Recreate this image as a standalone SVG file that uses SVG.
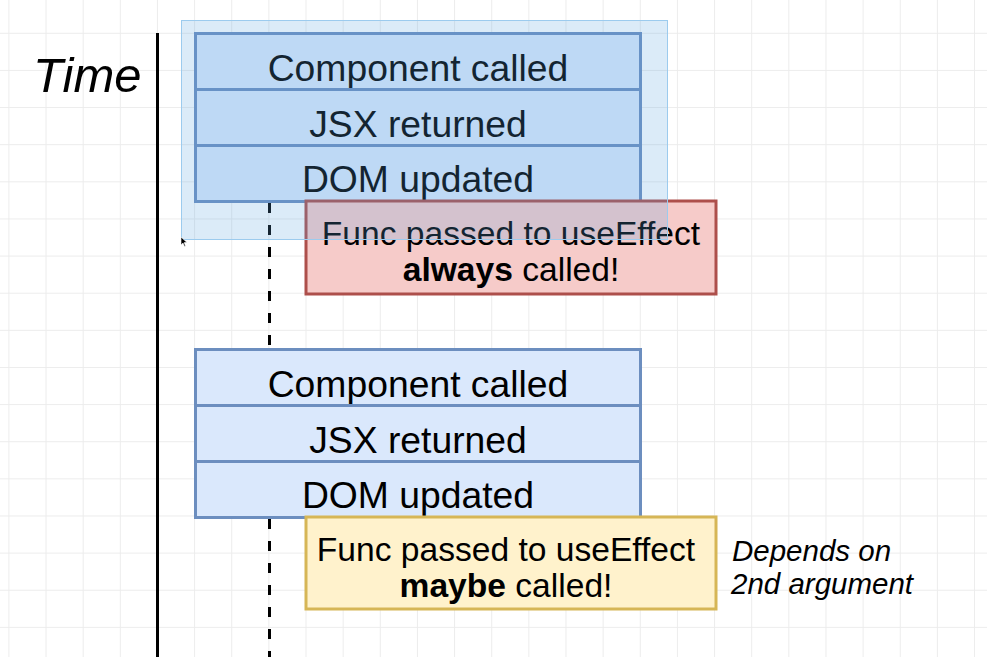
<svg xmlns="http://www.w3.org/2000/svg" width="987" height="657" viewBox="0 0 987 657">
  <style>
    text { font-family: "Liberation Sans", Arial, Helvetica, sans-serif; fill: #000; }
    .row { fill: #dae8fc; stroke: #6c8ebf; stroke-width: 3; }
    .lbl { font-size: 37.3px; text-anchor: middle; }
    .note { font-size: 33.6px; text-anchor: middle; }
    .red { fill: #f6cbc9; stroke: #ad4f4b; stroke-width: 3; }
    .yellow { fill: #fff2cc; stroke: #d6b656; stroke-width: 3; }
    .dash { stroke: #000; stroke-width: 3; stroke-dasharray: 10 12; fill: none; }
    .ital { font-style: italic; }
  </style>
  <defs>
    <pattern id="grid" x="8.4" y="32.8" width="37.14" height="37.13" patternUnits="userSpaceOnUse">
      <path d="M0.5 0 V37.13 M0 0.5 H37.14" stroke="#ececec" stroke-width="1" fill="none"/>
    </pattern>
  </defs>

  <rect x="0" y="0" width="987" height="657" fill="#ffffff"/>
  <rect x="0" y="0" width="987" height="657" fill="url(#grid)"/>

  <g id="time-axis">
    <line x1="157.5" y1="33" x2="157.5" y2="657" stroke="#000" stroke-width="3"/>
    <text x="33" y="92" font-size="49" class="ital">Time</text>
  </g>

  <g id="connectors">
    <line class="dash" x1="269.5" y1="203" x2="269.5" y2="349"/>
    <line class="dash" x1="269.5" y1="519" x2="269.5" y2="657"/>
  </g>

  <g id="render1">
    <g id="r1-component">
      <rect class="row" x="195.5" y="33.5" width="445" height="56"/>
      <text class="lbl" x="418" y="81">Component called</text>
    </g>
    <g id="r1-jsx">
      <rect class="row" x="195.5" y="89.5" width="445" height="56"/>
      <text class="lbl" x="418" y="137">JSX returned</text>
    </g>
    <g id="r1-dom">
      <rect class="row" x="195.5" y="145.5" width="445" height="56"/>
      <text class="lbl" x="418" y="192">DOM updated</text>
    </g>
  </g>

  <g id="effect1">
    <rect class="red" x="306" y="201" width="410" height="93"/>
    <text class="note" x="511" y="245">Func passed to useEffect</text>
    <text class="note" x="511" y="281"><tspan font-weight="bold">always</tspan> called!</text>
  </g>

  <g id="render2">
    <g id="r2-component">
      <rect class="row" x="195.5" y="349.5" width="445" height="56"/>
      <text class="lbl" x="418" y="397">Component called</text>
    </g>
    <g id="r2-jsx">
      <rect class="row" x="195.5" y="405.5" width="445" height="56"/>
      <text class="lbl" x="418" y="453">JSX returned</text>
    </g>
    <g id="r2-dom">
      <rect class="row" x="195.5" y="461.5" width="445" height="56"/>
      <text class="lbl" x="418" y="508">DOM updated</text>
    </g>
  </g>

  <g id="effect2">
    <rect class="yellow" x="306" y="517" width="410" height="92"/>
    <text class="note" x="506" y="561">Func passed to useEffect</text>
    <text class="note" x="506" y="597"><tspan font-weight="bold">maybe</tspan> called!</text>
  </g>

  <g id="annotation">
    <text class="ital" x="732" y="561" font-size="29.5">Depends on</text>
    <text class="ital" x="731" y="594" font-size="29.5">2nd argument</text>
  </g>

  <g id="selection">
    <rect x="181.5" y="20.5" width="486" height="219" fill="#5aa5e0" fill-opacity="0.22" stroke="#9ccbee" stroke-width="1"/>
  </g>

  <g id="cursor">
    <path d="M181 237 L181 245 L183 243 L184.5 246.5 L185.5 246 L184.2 242.6 L187 242.5 Z" fill="#000" stroke="#fff" stroke-width="0.6"/>
  </g>
</svg>
